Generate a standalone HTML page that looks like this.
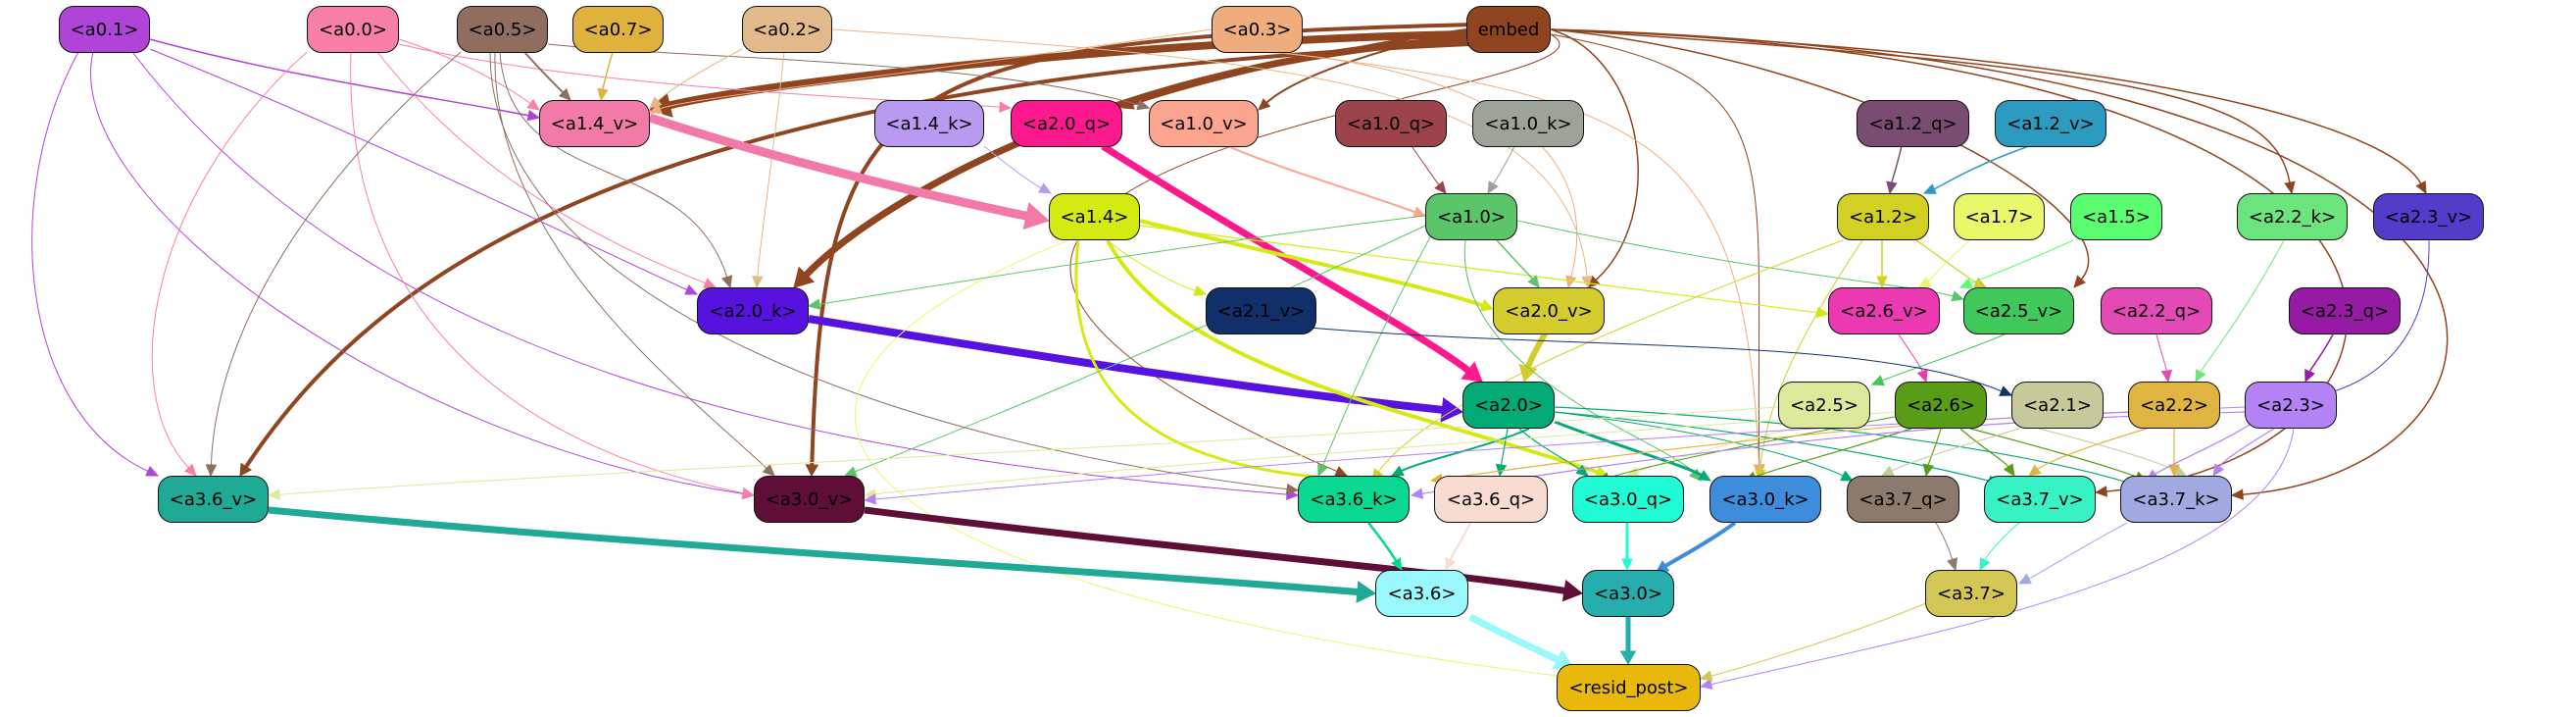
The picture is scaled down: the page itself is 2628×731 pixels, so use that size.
<!DOCTYPE html>
<html><head><meta charset="utf-8"><style>
html,body{margin:0;padding:0;background:#fff;width:2628px;height:731px;overflow:hidden}
svg{position:absolute;left:0;top:0}
.n{position:absolute;height:48px;border:1.5px solid #111;border-radius:15px;box-sizing:border-box;font:18px "DejaVu Sans","Liberation Sans",sans-serif;color:#000;display:flex;align-items:center;justify-content:center;white-space:nowrap}
</style></head><body>
<svg id="s" width="2628" height="731"></svg>
<div id="nodes">
<div class="n" style="left:60px;top:6px;width:93px;background:#b044d8">&lt;a0.1&gt;</div>
<div class="n" style="left:313px;top:6px;width:94px;background:#f77fa8">&lt;a0.0&gt;</div>
<div class="n" style="left:466px;top:6px;width:93px;background:#8f6e60">&lt;a0.5&gt;</div>
<div class="n" style="left:584px;top:6px;width:93px;background:#dfb23e">&lt;a0.7&gt;</div>
<div class="n" style="left:757px;top:6px;width:92px;background:#e2b98a">&lt;a0.2&gt;</div>
<div class="n" style="left:1236px;top:6px;width:93px;background:#efad7e">&lt;a0.3&gt;</div>
<div class="n" style="left:1496px;top:6px;width:86px;background:#8f4520">embed</div>
<div class="n" style="left:550px;top:102px;width:113px;background:#f27aa8">&lt;a1.4_v&gt;</div>
<div class="n" style="left:892px;top:102px;width:112px;background:#b89bf0">&lt;a1.4_k&gt;</div>
<div class="n" style="left:1031px;top:102px;width:114px;background:#fe188e">&lt;a2.0_q&gt;</div>
<div class="n" style="left:1172px;top:102px;width:112px;background:#fba590">&lt;a1.0_v&gt;</div>
<div class="n" style="left:1362px;top:102px;width:114px;background:#9c434c">&lt;a1.0_q&gt;</div>
<div class="n" style="left:1502px;top:102px;width:114px;background:#9da398">&lt;a1.0_k&gt;</div>
<div class="n" style="left:1894px;top:102px;width:115px;background:#7a4c72">&lt;a1.2_q&gt;</div>
<div class="n" style="left:2035px;top:102px;width:114px;background:#2c9bbf">&lt;a1.2_v&gt;</div>
<div class="n" style="left:1070px;top:197px;width:93px;background:#d5ea12">&lt;a1.4&gt;</div>
<div class="n" style="left:1454px;top:197px;width:94px;background:#5bc56a">&lt;a1.0&gt;</div>
<div class="n" style="left:1874px;top:197px;width:94px;background:#d2d022">&lt;a1.2&gt;</div>
<div class="n" style="left:1993px;top:197px;width:93px;background:#e8f86a">&lt;a1.7&gt;</div>
<div class="n" style="left:2112px;top:197px;width:94px;background:#5afc70">&lt;a1.5&gt;</div>
<div class="n" style="left:2282px;top:197px;width:113px;background:#6be47d">&lt;a2.2_k&gt;</div>
<div class="n" style="left:2421px;top:197px;width:113px;background:#533cc9">&lt;a2.3_v&gt;</div>
<div class="n" style="left:711px;top:293px;width:114px;background:#5812e0">&lt;a2.0_k&gt;</div>
<div class="n" style="left:1230px;top:293px;width:113px;background:#11306a">&lt;a2.1_v&gt;</div>
<div class="n" style="left:1523px;top:293px;width:114px;background:#d3cc2c">&lt;a2.0_v&gt;</div>
<div class="n" style="left:1865px;top:293px;width:114px;background:#eb39b2">&lt;a2.6_v&gt;</div>
<div class="n" style="left:2003px;top:293px;width:113px;background:#40c95a">&lt;a2.5_v&gt;</div>
<div class="n" style="left:2143px;top:293px;width:114px;background:#e44ab5">&lt;a2.2_q&gt;</div>
<div class="n" style="left:2335px;top:293px;width:114px;background:#951ba4">&lt;a2.3_q&gt;</div>
<div class="n" style="left:1492px;top:389px;width:94px;background:#04aa76">&lt;a2.0&gt;</div>
<div class="n" style="left:1814px;top:389px;width:94px;background:#dde99a">&lt;a2.5&gt;</div>
<div class="n" style="left:1933px;top:389px;width:94px;background:#599c17">&lt;a2.6&gt;</div>
<div class="n" style="left:2052px;top:389px;width:94px;background:#c8c99b">&lt;a2.1&gt;</div>
<div class="n" style="left:2171px;top:389px;width:94px;background:#e0b441">&lt;a2.2&gt;</div>
<div class="n" style="left:2290px;top:389px;width:94px;background:#b382f4">&lt;a2.3&gt;</div>
<div class="n" style="left:161px;top:485px;width:113px;background:#20a994">&lt;a3.6_v&gt;</div>
<div class="n" style="left:769px;top:485px;width:113px;background:#5e0e37">&lt;a3.0_v&gt;</div>
<div class="n" style="left:1324px;top:485px;width:114px;background:#0ad891">&lt;a3.6_k&gt;</div>
<div class="n" style="left:1463px;top:485px;width:116px;background:#f8dbd1">&lt;a3.6_q&gt;</div>
<div class="n" style="left:1604px;top:485px;width:114px;background:#20fbd6">&lt;a3.0_q&gt;</div>
<div class="n" style="left:1744px;top:485px;width:114px;background:#3d8ddc">&lt;a3.0_k&gt;</div>
<div class="n" style="left:1884px;top:485px;width:115px;background:#8c7a6c">&lt;a3.7_q&gt;</div>
<div class="n" style="left:2024px;top:485px;width:114px;background:#36f2c4">&lt;a3.7_v&gt;</div>
<div class="n" style="left:2163px;top:485px;width:114px;background:#a0a9e0">&lt;a3.7_k&gt;</div>
<div class="n" style="left:1403px;top:581px;width:95px;background:#98f8fb">&lt;a3.6&gt;</div>
<div class="n" style="left:1614px;top:581px;width:94px;background:#26aeae">&lt;a3.0&gt;</div>
<div class="n" style="left:1964px;top:581px;width:94px;background:#d4c655">&lt;a3.7&gt;</div>
<div class="n" style="left:1588px;top:677px;width:147px;background:#e8b90c">&lt;resid_post&gt;</div>
</div>
<script>
var s=document.getElementById('s');
// [x1,y1,x2,y2,color,width,cx1,cy1,cx2,cy2]
var E=[
[1496,35,663,112,'#8f4520',8,1200,40,800,80],
[1496,40,810,293,'#8f4520',7,1150,60,900,200],
[1500,45,245,485,'#8f4520',4,700,80,400,250],
[1505,25,828,485,'#8f4520',4,900,40,840,80],
[1500,30,1145,110,'#8f4520',3,1350,50,1200,90],
[1505,30,1284,112,'#8f4520',2,1400,50,1320,80],
[1582,30,1620,293,'#8f4520',1.5,1680,60,1700,220],
[1582,30,2116,293,'#8f4520',1.5,1900,60,2180,220],
[1582,30,2338,197,'#8f4520',1.5,2200,70,2320,100],
[1582,30,2475,197,'#8f4520',1.5,2300,60,2450,150],
[1582,30,2277,505,'#8f4520',1.5,2700,60,2600,480],
[1582,30,2138,502,'#8f4520',1.5,2600,60,2500,470],
[1582,35,1795,485,'#8f4520',1,1830,80,1790,150],
[1582,35,1374,485,'#8f4520',1,1700,100,600,150],
[153,40,550,120,'#b044d8',1.5,300,80,450,100],
[153,50,711,300,'#b044d8',1,400,150,600,250],
[80,53,161,485,'#b044d8',1,0,200,20,420],
[95,53,769,505,'#b044d8',1,60,200,400,450],
[135,53,1324,505,'#b044d8',1,400,400,900,470],
[407,40,550,112,'#f77fa8',1,470,60,520,90],
[407,45,1031,110,'#f77fa8',1,600,90,900,100],
[385,53,730,293,'#f77fa8',1,500,200,650,260],
[313,53,200,485,'#f77fa8',1,150,200,120,400],
[358,53,769,505,'#f77fa8',1,350,300,500,450],
[535,53,582,102,'#8f6e60',2,550,70,570,90],
[559,45,1172,110,'#8f6e60',1,700,60,1000,60],
[510,53,745,293,'#8f6e60',1,520,200,700,150],
[470,53,215,485,'#8f6e60',1,300,200,220,350],
[505,53,790,485,'#8f6e60',1,500,250,700,400],
[500,53,1324,500,'#8f6e60',1,500,300,900,450],
[625,53,613,102,'#dfb23e',1.5,620,70,615,90],
[757,50,663,110,'#e2b98a',1,700,80,680,95],
[800,53,772,293,'#e2b98a',1,790,150,775,250],
[849,30,1620,293,'#e2b98a',1,1300,60,1600,80],
[1236,30,663,115,'#efad7e',1,900,80,700,100],
[1290,53,1600,293,'#efad7e',1,1400,60,1650,100],
[1300,53,1795,485,'#efad7e',1,1700,100,1780,150],
[663,120,1070,225,'#f27aa8',9,800,165,950,200],
[1125,149,1512,389,'#fe188e',7,1300,260,1450,340],
[825,325,1492,420,'#5812e0',8,1100,370,1300,400],
[1580,334,1555,389,'#d3cc2c',6,1570,350,1560,370],
[1163,225,1523,315,'#d5ea12',4,1300,260,1450,290],
[1130,245,1640,485,'#d5ea12',4,1200,380,1450,420],
[1100,245,1395,490,'#d5ea12',3,1080,420,1200,480],
[1090,245,1680,700,'#e8f86a',1,700,400,800,600],
[1163,230,1865,320,'#d5ea12',1.2,1400,260,1700,300],
[1130,245,1230,300,'#d5ea12',1,1160,270,1200,290],
[1004,149,1072,197,'#b89bf0',1,1030,170,1050,185],
[1253,149,1454,220,'#fba590',2,1300,170,1400,200],
[1440,149,1475,197,'#9c434c',1,1455,170,1465,185],
[1545,149,1518,197,'#9da398',1,1535,170,1525,185],
[1520,237,1570,293,'#5bc56a',1.5,1540,260,1560,280],
[1454,220,825,312,'#5bc56a',1,1200,250,900,300],
[1460,240,1345,485,'#5bc56a',1,1400,350,1360,450],
[1454,230,862,485,'#5bc56a',1,1200,350,950,450],
[1548,225,2003,305,'#5bc56a',1,1800,280,1950,290],
[1495,245,1735,490,'#5bc56a',1,1480,380,1700,450],
[1940,149,1928,197,'#7a4c72',1.5,1935,170,1930,185],
[2070,149,1963,197,'#2c9bbf',1.5,2010,170,1980,190],
[1920,245,1920,293,'#d2d022',1.5,1920,260,1920,280],
[1955,245,2026,293,'#d2d022',1.2,1990,270,2010,285],
[1880,245,1400,490,'#d2d022',1,1600,350,1450,420],
[1900,245,1795,490,'#d2d022',1,1830,350,1800,420],
[2010,245,1958,293,'#e8f86a',1,1985,265,1970,285],
[2115,245,2000,293,'#5afc70',1,2060,270,2020,285],
[2330,245,2240,389,'#6be47d',1,2290,320,2250,370],
[2478,245,2358,405,'#533cc9',1,2480,350,2420,390],
[2380,341,2352,389,'#951ba4',1.5,2370,360,2358,375],
[2200,341,2212,389,'#e44ab5',1,2205,360,2210,375],
[1937,341,1965,389,'#eb39b2',1,1950,360,1960,375],
[2045,341,1910,392,'#40c95a',1,2000,360,1940,380],
[1290,330,2052,403,'#11306a',1,1600,360,1900,340],
[1560,437,1420,485,'#04aa76',2,1520,455,1450,470],
[1538,437,1530,485,'#04aa76',1.2,1535,455,1532,470],
[1550,437,1620,485,'#04aa76',1.2,1570,455,1600,470],
[1586,430,1745,490,'#04aa76',3,1650,455,1720,475],
[1586,420,2040,493,'#04aa76',1.2,1800,440,1950,470],
[1586,415,2180,495,'#04aa76',1.2,1900,430,2100,470],
[1586,420,1890,490,'#04aa76',1,1750,440,1850,470],
[1814,415,274,505,'#dde99a',1,1300,450,600,480],
[1830,437,1660,485,'#dde99a',1,1750,455,1700,470],
[1933,420,882,505,'#dde99a',1,1500,450,1100,480],
[1950,437,1780,490,'#599c17',1.2,1880,460,1820,475],
[1980,437,1965,485,'#599c17',1.2,1975,455,1968,470],
[2000,437,2055,485,'#599c17',1.2,2020,455,2045,470],
[2010,437,2190,490,'#599c17',1.2,2080,455,2150,475],
[1933,425,1630,490,'#599c17',1,1800,450,1700,470],
[2080,437,2230,485,'#c8c99b',1,2150,455,2200,470],
[2060,437,1920,485,'#c8c99b',1,2000,455,1950,470],
[2171,420,1460,490,'#e0b441',1.2,1900,430,1600,470],
[2190,437,2070,485,'#e0b441',1.2,2130,455,2090,470],
[2218,437,2218,485,'#e0b441',1.2,2218,455,2218,470],
[2290,420,1440,505,'#b382f4',1.2,1900,430,1600,480],
[2300,430,2190,490,'#b382f4',1.2,2260,455,2210,475],
[2320,437,2258,485,'#b382f4',1.2,2290,455,2268,470],
[2340,437,1735,700,'#b382f4',1,2320,580,2000,640],
[2290,415,882,510,'#b382f4',1,1700,440,1200,480],
[274,520,1403,605,'#20a994',7,700,560,1100,580],
[882,520,1614,605,'#5e0e37',7,1200,560,1450,580],
[1396,533,1430,581,'#0ad891',2.5,1410,550,1420,565],
[1500,533,1475,581,'#f8dbd1',2,1492,550,1482,565],
[1660,533,1660,581,'#20fbd6',3,1660,550,1660,565],
[1770,533,1690,583,'#3d8ddc',4,1740,555,1710,570],
[1975,533,1995,581,'#8c7a6c',1,1985,550,1990,565],
[2060,533,2020,581,'#36f2c4',1,2040,550,2028,565],
[2170,533,2060,595,'#a0a9e0',1,2120,560,2080,585],
[1500,629,1605,681,'#98f8fb',7,1540,650,1580,668],
[1661,629,1661,677,'#26aeae',5,1661,645,1661,660],
[1965,615,1735,692,'#d4c655',1,1880,650,1780,680]
];
var h='';
E.forEach(function(e){
 var x1=e[0],y1=e[1],x2=e[2],y2=e[3],c=e[4],w=e[5];
 var dx=x2-e[8],dy=y2-e[9],L=Math.hypot(dx,dy)||1;dx/=L;dy/=L;
 var al=Math.max(11,w*2.6),aw=Math.max(5,w*1.5);
 var bx=x2-dx*al,by=y2-dy*al;
 h+='<path d="M'+x1+','+y1+' C'+e[6]+','+e[7]+' '+e[8]+','+e[9]+' '+bx.toFixed(1)+','+by.toFixed(1)+'" fill="none" stroke="'+c+'" stroke-width="'+w+'"/>';
 h+='<polygon points="'+x2+','+y2+' '+(bx-dy*aw).toFixed(1)+','+(by+dx*aw).toFixed(1)+' '+(bx+dy*aw).toFixed(1)+','+(by-dx*aw).toFixed(1)+'" fill="'+c+'" stroke="'+c+'"/>';
});
s.innerHTML=h;
</script>
</body></html>
